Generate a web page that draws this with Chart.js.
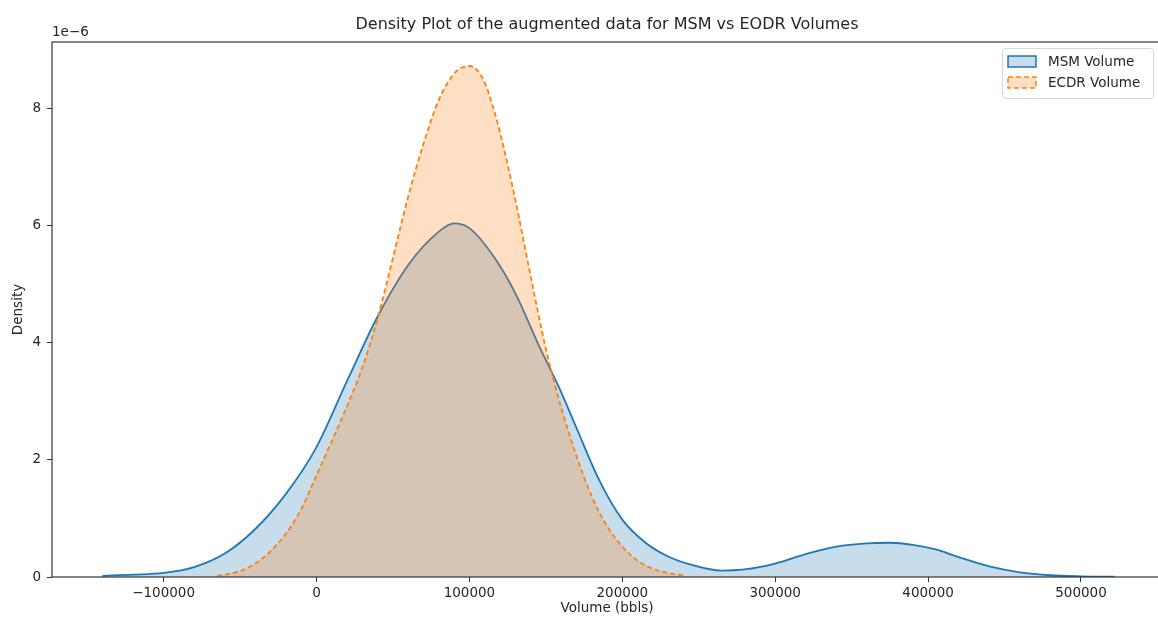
<!DOCTYPE html>
<html>
<head>
<meta charset="utf-8">
<script src="https://cdn.jsdelivr.net/npm/chart.js@4.4.1/dist/chart.umd.min.js"></script>
<style>
  body { margin: 0; background: #fff; }
  #wrap { width: 1158px; height: 622px; overflow: hidden; }
</style>
</head>
<body>
<div id="wrap"><canvas id="kde" width="1175" height="622"></canvas></div>
<script>
// values, density in units of 1e-6
var msmVolume = [-140000, -120000, -100000, -80000, -60000, -40000, -20000, 0, 20000, 40000,
    60000, 80000, 90000, 100000, 116000, 130000, 145000, 160000, 170000, 185000,
    200000, 215000, 230000, 245000, 265000, 280000, 300000, 320000, 340000, 360000,
    375000, 390000, 405000, 420000, 440000, 460000, 480000, 500000, 522000];
var msmDensity = [0.02, 0.04, 0.07, 0.17, 0.40, 0.82, 1.42, 2.22, 3.35, 4.45,
    5.33, 5.90, 6.04, 5.96, 5.47, 4.85, 3.98, 3.16, 2.55, 1.65,
    0.98, 0.59, 0.35, 0.21, 0.11, 0.13, 0.23, 0.39, 0.52, 0.575,
    0.585, 0.55, 0.47, 0.34, 0.18, 0.08, 0.03, 0.012, 0.005];

var ecdrVolume = [-65000, -60000, -50000, -40000, -30000, -20000, -10000, 0, 10000, 20000,
    30000, 40000, 50000, 60000, 70000, 80000, 90000, 95000, 100000, 105000,
    110000, 115000, 120000, 130000, 140000, 150000, 160000, 170000, 180000, 190000,
    200000, 210000, 220000, 230000, 240000];
var ecdrDensity = [0.02, 0.04, 0.10, 0.23, 0.44, 0.74, 1.16, 1.74, 2.32, 2.92,
    3.58, 4.42, 5.45, 6.50, 7.40, 8.15, 8.60, 8.70, 8.73, 8.66,
    8.45, 8.07, 7.60, 6.45, 5.15, 3.90, 2.90, 2.07, 1.38, 0.87,
    0.52, 0.28, 0.14, 0.07, 0.03];

var xTicks = [-100000, 0, 100000, 200000, 300000, 400000, 500000];
var yTicks = [0, 2, 4, 6, 8];

var font = 'DejaVu Sans';
var textColor = '#262626';

function toPoints(xs, ys) {
    return xs.map(function (x, i) { return { x: x, y: ys[i] }; });
}

// axes frame, offset label, title and legend like matplotlib
var mplDecor = {
    id: 'mplDecor',
    afterDatasetsDraw: function (chart) {
        var a = chart.chartArea, ctx = chart.ctx;
        ctx.save();
        ctx.strokeStyle = '#333';
        ctx.lineWidth = 1.2;
        ctx.strokeRect(a.left, a.top, a.right - a.left, a.bottom - a.top);
        ctx.restore();
    },
    afterDraw: function (chart) {
        var a = chart.chartArea, ctx = chart.ctx;
        ctx.save();
        ctx.fillStyle = textColor;
        ctx.font = '16px ' + font;
        ctx.textAlign = 'center';
        ctx.textBaseline = 'middle';
        ctx.fillText('Density Plot of the augmented data for MSM vs EODR Volumes', (a.left + a.right) / 2, 25);

        ctx.font = '13.5px ' + font;
        ctx.textAlign = 'left';
        ctx.fillText('1e\u22126', a.left, 32);

        // legend
        var bx = 1002, by = 48, bw = 151, bh = 50;
        ctx.fillStyle = 'rgba(255,255,255,0.8)';
        ctx.strokeStyle = '#d6d6d6';
        ctx.lineWidth = 1;
        ctx.beginPath();
        ctx.roundRect(bx + 0.5, by + 0.5, bw, bh, 3);
        ctx.fill();
        ctx.stroke();
        chart.data.datasets.forEach(function (ds, i) {
            var py = by + 8 + i * 21;
            ctx.fillStyle = ds.backgroundColor;
            ctx.fillRect(bx + 6, py, 28, 11);
            ctx.strokeStyle = ds.borderColor;
            ctx.lineWidth = 1.5;
            ctx.setLineDash(ds.borderDash || []);
            ctx.strokeRect(bx + 6, py, 28, 11);
            ctx.setLineDash([]);
            ctx.fillStyle = textColor;
            ctx.textBaseline = 'middle';
            ctx.fillText(ds.label, bx + 46, py + 6);
        });
        ctx.restore();
    }
};

var ctx = document.getElementById('kde').getContext('2d');
var kdeChart = new Chart(ctx, {
    type: 'line',
    data: {
        datasets: [{
            label: 'MSM Volume',
            data: toPoints(msmVolume, msmDensity),
            borderColor: '#1f77b4',
            backgroundColor: 'rgba(31,119,180,0.25)',
            borderWidth: 1.8,
            fill: 'origin',
            pointRadius: 0,
            cubicInterpolationMode: 'monotone',
            order: 1
        }, {
            label: 'ECDR Volume',
            data: toPoints(ecdrVolume, ecdrDensity),
            borderColor: '#ff7f0e',
            backgroundColor: 'rgba(255,127,14,0.25)',
            borderWidth: 1.8,
            borderDash: [5, 3],
            fill: 'origin',
            pointRadius: 0,
            cubicInterpolationMode: 'monotone',
            order: 0
        }]
    },
    options: {
        responsive: false,
        animation: false,
        layout: { padding: { top: 42, right: 13, left: 0, bottom: 0 } },
        plugins: {
            legend: { display: false },
            tooltip: { enabled: false },
            title: { display: false }
        },
        scales: {
            x: {
                type: 'linear',
                min: -173000,
                max: 553000,
                afterBuildTicks: function (s) { s.ticks = xTicks.map(function (v) { return { value: v }; }); },
                afterFit: function (s) { s.height = 45; },
                ticks: {
                    autoSkip: false,
                    maxRotation: 0,
                    padding: 3,
                    color: textColor,
                    font: { family: font, size: 13.5 },
                    callback: function (v) { return v < 0 ? '\u2212' + Math.abs(v) : String(v); }
                },
                grid: { drawOnChartArea: false, drawTicks: true, tickLength: 5, color: '#333' },
                border: { display: false },
                title: {
                    display: true,
                    text: 'Volume (bbls)',
                    color: textColor,
                    font: { family: font, size: 13.5 },
                    padding: { top: 0, bottom: 5 }
                }
            },
            y: {
                min: 0,
                max: 9.14,
                afterBuildTicks: function (s) { s.ticks = yTicks.map(function (v) { return { value: v }; }); },
                afterFit: function (s) { s.width = 52; },
                ticks: {
                    padding: 6,
                    color: textColor,
                    font: { family: font, size: 13.5 },
                    callback: function (v) { return String(v); }
                },
                grid: { drawOnChartArea: false, drawTicks: true, tickLength: 5, color: '#333' },
                border: { display: false },
                title: {
                    display: true,
                    text: 'Density',
                    color: textColor,
                    font: { family: font, size: 13.5 },
                    padding: { top: 10, bottom: 0 }
                }
            }
        }
    },
    plugins: [mplDecor]
});
</script>
</body>
</html>
